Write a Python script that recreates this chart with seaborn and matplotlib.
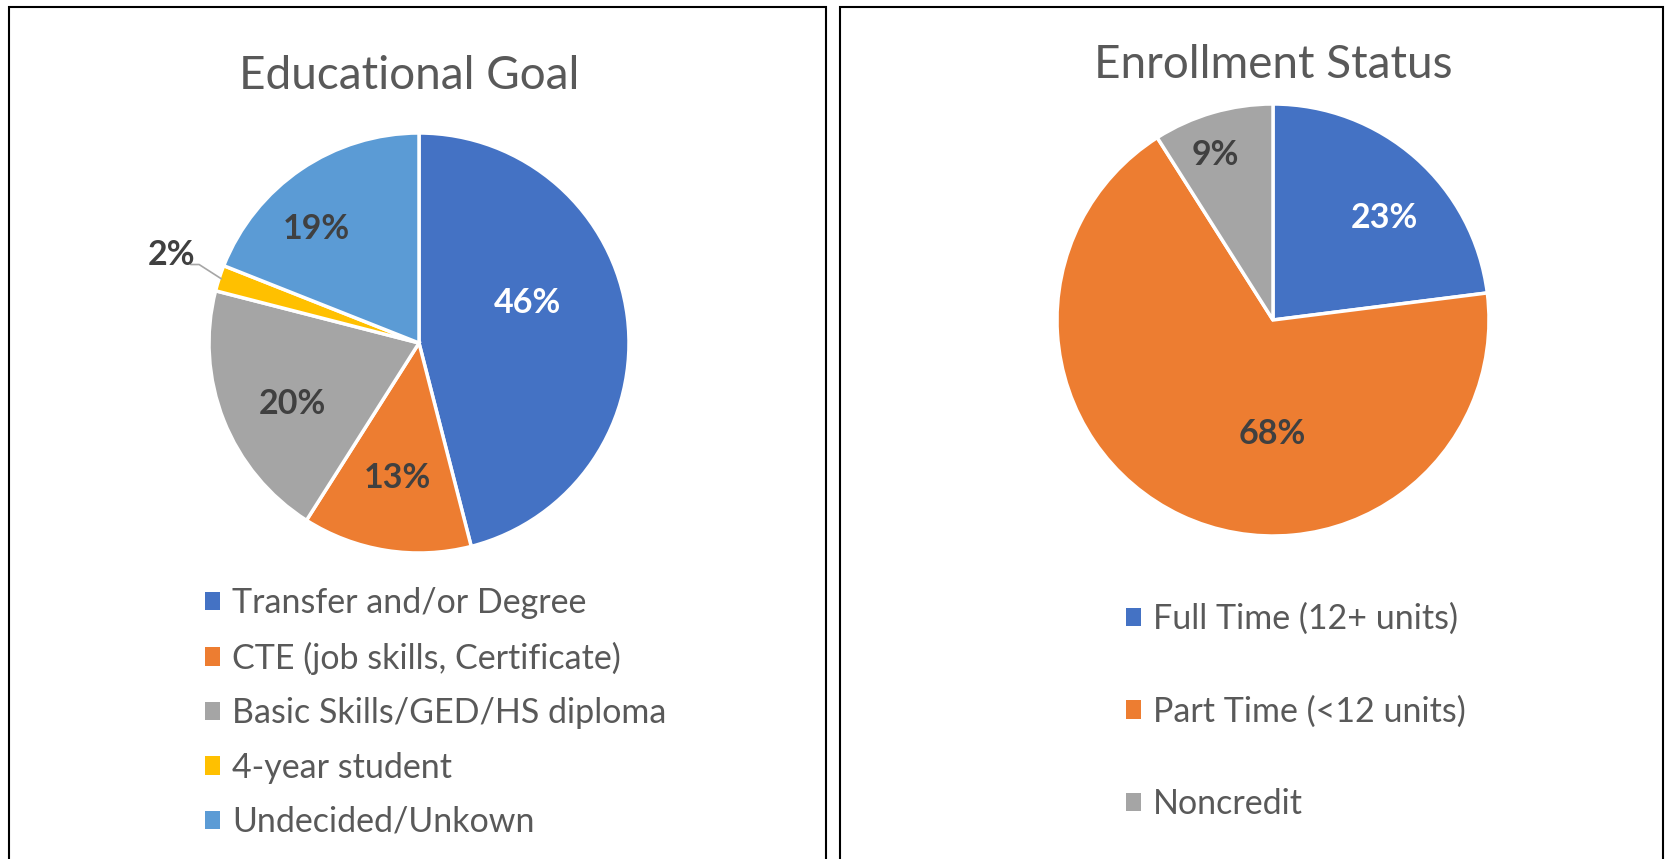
import numpy as np
import matplotlib.pyplot as plt
import seaborn as sns
from matplotlib.patches import Patch, Rectangle

sns.set_theme(style="white")
plt.rcParams['font.family'] = ['Lato', 'DejaVu Sans']

# data
goal_labels = ["Transfer and/or Degree", "CTE (job skills, Certificate)",
               "Basic Skills/GED/HS diploma", "4-year student", "Undecided/Unkown"]
goal_values = [46, 13, 20, 2, 19]
goal_colors = ["#4472C4", "#ED7D31", "#A5A5A5", "#FFC000", "#5B9BD5"]

status_labels = ["Full Time (12+ units)", "Part Time (<12 units)", "Noncredit"]
status_values = [23, 68, 9]
status_colors = ["#4472C4", "#ED7D31", "#A5A5A5"]

W, H = 1669, 859
fig = plt.figure(figsize=(W / 100, H / 100), dpi=100)
fig.patch.set_facecolor("white")

# panel borders
for x0, x1 in [(9, 826), (840, 1663)]:
    fig.patches.append(Rectangle((x0 / W, -0.01), (x1 - x0) / W, 1 - 7 / H + 0.01,
                                 transform=fig.transFigure, fill=False,
                                 edgecolor="black", linewidth=1.5))

LIM = 1.3
txt_dark = "#404040"


def draw_pie(cx, cy, r, values, colors, dists, nudges, white_idx):
    side = 2 * LIM * r
    ax = fig.add_axes([(cx - side / 2) / W, (H - cy - side / 2) / H, side / W, side / H])
    wedges, _ = ax.pie(values, colors=colors, startangle=90, counterclock=False,
                       wedgeprops=dict(edgecolor="white", linewidth=2.5))
    ax.set_xlim(-LIM, LIM)
    ax.set_ylim(-LIM, LIM)
    ax.set_aspect("equal")
    ax.axis("off")
    for i, w in enumerate(wedges):
        ang = np.deg2rad((w.theta1 + w.theta2) / 2 + nudges[i])
        x, y = dists[i] * np.cos(ang), dists[i] * np.sin(ang)
        ax.text(x, y, f"{values[i]}%", ha="center", va="center", fontsize=24.5,
                fontweight="bold", color="white" if i in white_idx else txt_dark)
    return ax, wedges


ax1, w1 = draw_pie(419, 343, 210, goal_values, goal_colors,
                   [0.55, 0.65, 0.67, 1.25, 0.73], [13, 0, 4, -1.5, 8], [0])
ax2, w2 = draw_pie(1273, 320, 216, status_values, status_colors,
                   [0.70, 0.53, 0.81], [-6, 25, 3], [0])

# leader line for the small slice
w = w1[3]
a = np.deg2rad((w.theta1 + w.theta2) / 2)
p0 = (0.99 * np.cos(a), 0.99 * np.sin(a))
p1 = (1.08 * np.cos(a) - 0.02, 1.08 * np.sin(a) + 0.04)
p2 = (p1[0] - 0.04, p1[1])
ax1.plot([p0[0], p1[0], p2[0]], [p0[1], p1[1], p2[1]], color="#A6A6A6", lw=1.2)

# titles
fig.text(409 / W, 1 - 76 / H, "Educational Goal", ha="center", va="center",
         fontsize=33, color="#595959")
fig.text(1273 / W, 1 - 65 / H, "Enrollment Status", ha="center", va="center",
         fontsize=33, color="#595959")

# legends
h1 = [Patch(facecolor=c, edgecolor="none") for c in goal_colors]
fig.legend(h1, goal_labels, loc="upper left", bbox_to_anchor=(188 / W, 1 - 570 / H),
           frameon=False, fontsize=24.5, labelcolor="#595959", handlelength=0.45,
           handleheight=0.45, handletextpad=0.35, labelspacing=0.66, borderpad=0)

h2 = [Patch(facecolor=c, edgecolor="none") for c in status_colors]
fig.legend(h2, status_labels, loc="upper left", bbox_to_anchor=(1109 / W, 1 - 586 / H),
           frameon=False, fontsize=24.5, labelcolor="#595959", handlelength=0.45,
           handleheight=0.45, handletextpad=0.35, labelspacing=1.77, borderpad=0)

fig.savefig("out.png", dpi=100, facecolor="white")
